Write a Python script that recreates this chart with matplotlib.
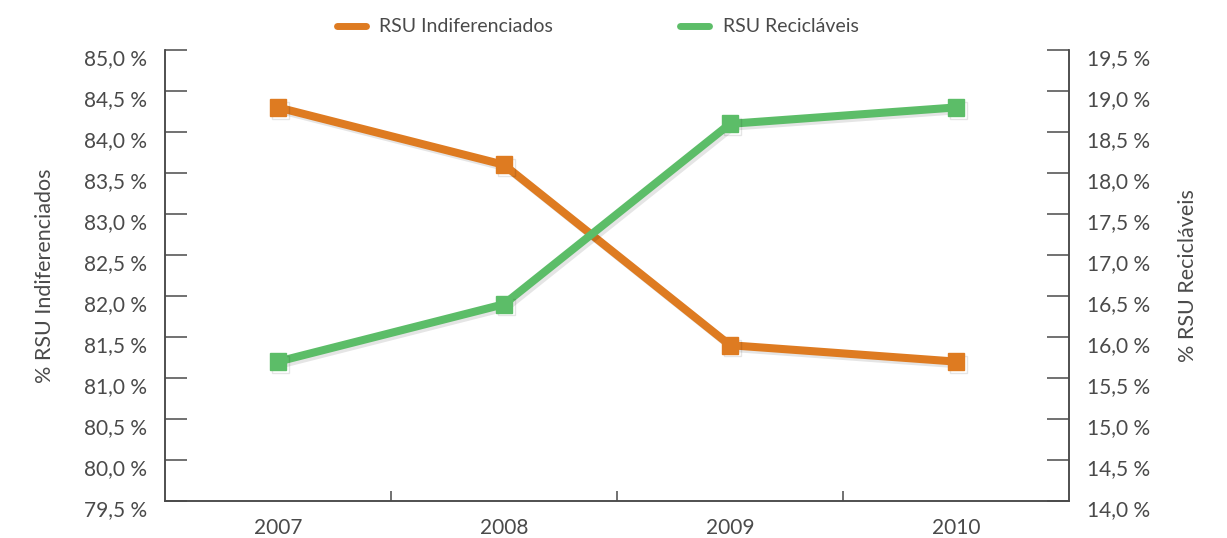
import matplotlib
matplotlib.use("Agg")
import matplotlib.pyplot as plt
import matplotlib.patheffects as pe
import matplotlib.transforms as mtransforms
import numpy as np

years = ["2007", "2008", "2009", "2010"]
indiferenciados = [84.3, 83.6, 81.4, 81.2]
reciclaveis = [15.7, 16.4, 18.6, 18.8]
left_ticks = [79.5, 80.0, 80.5, 81.0, 81.5, 82.0, 82.5, 83.0, 83.5, 84.0, 84.5, 85.0]
right_ticks = [14.0, 14.5, 15.0, 15.5, 16.0, 16.5, 17.0, 17.5, 18.0, 18.5, 19.0, 19.5]

orange = "#de7b21"
green = "#5cbd68"
grey = "#4a4a4a"

plt.rcParams["font.family"] = ["Lato", "DejaVu Sans"]

fig = plt.figure(figsize=(12.27, 5.38), dpi=100)
ax = fig.add_axes([0.1345, 0.0688, 0.7367, 0.8382])
ax2 = ax.twinx()

x = np.arange(len(years))
shadow = [pe.SimpleLineShadow(offset=(2, -2), shadow_color="black", alpha=0.1), pe.Normal()]

ax.plot(x, indiferenciados, color=orange, lw=5.8, marker="s", ms=12,
        solid_joinstyle="miter", path_effects=shadow)
ax2.plot(x, reciclaveis, color=green, lw=5.8, marker="s", ms=12,
         solid_joinstyle="miter", path_effects=shadow)

ax.set_xlim(-0.5, 3.5)
ax.set_ylim(79.5, 85.0)
ax2.set_ylim(14.0, 19.5)

ax.set_yticks(left_ticks)
ax.set_yticklabels([f"{v:.1f} %".replace(".", ",") for v in left_ticks])
ax2.set_yticks(right_ticks)
ax2.set_yticklabels([f"{v:.1f} %".replace(".", ",") for v in right_ticks])

ax.set_xticks(x)
ax.set_xticklabels(years)
ax.set_xticks([0.5, 1.5, 2.5], minor=True)

for a in (ax, ax2):
    a.spines["top"].set_visible(False)
    for s in a.spines.values():
        s.set_color(grey)
        s.set_linewidth(1.1)
    a.tick_params(axis="y", direction="in", length=16, width=1.1, color=grey,
                  labelcolor=grey, labelsize=15, pad=13)

ax.tick_params(axis="x", which="major", length=0, labelsize=15, labelcolor=grey, pad=12)
ax.tick_params(axis="x", which="minor", direction="in", length=7, width=1.1, color=grey)
ax.tick_params(axis="y", which="minor", left=False)

# tick labels sit a little below their ticks
offset = mtransforms.ScaledTranslation(0, -7 / 100, fig.dpi_scale_trans)
for lab in ax.get_yticklabels() + ax2.get_yticklabels():
    lab.set_transform(lab.get_transform() + offset)

ax.set_ylabel("% RSU Indiferenciados", fontsize=15.5, color=grey, labelpad=21)
ax2.set_ylabel("% RSU Recicláveis", fontsize=15.5, color=grey, labelpad=20)

handles = [plt.Line2D([], [], color=orange, lw=5, solid_capstyle="round"),
           plt.Line2D([], [], color=green, lw=5, solid_capstyle="round")]
leg = fig.legend(handles, ["RSU Indiferenciados", "RSU Recicláveis"], loc="center",
                 bbox_to_anchor=(0.487, 0.95), ncol=2, frameon=False, fontsize=14,
                 handlelength=1.5, handletextpad=0.7, columnspacing=6.5)
for t in leg.get_texts():
    t.set_color(grey)

fig.savefig("out.png", dpi=100)
